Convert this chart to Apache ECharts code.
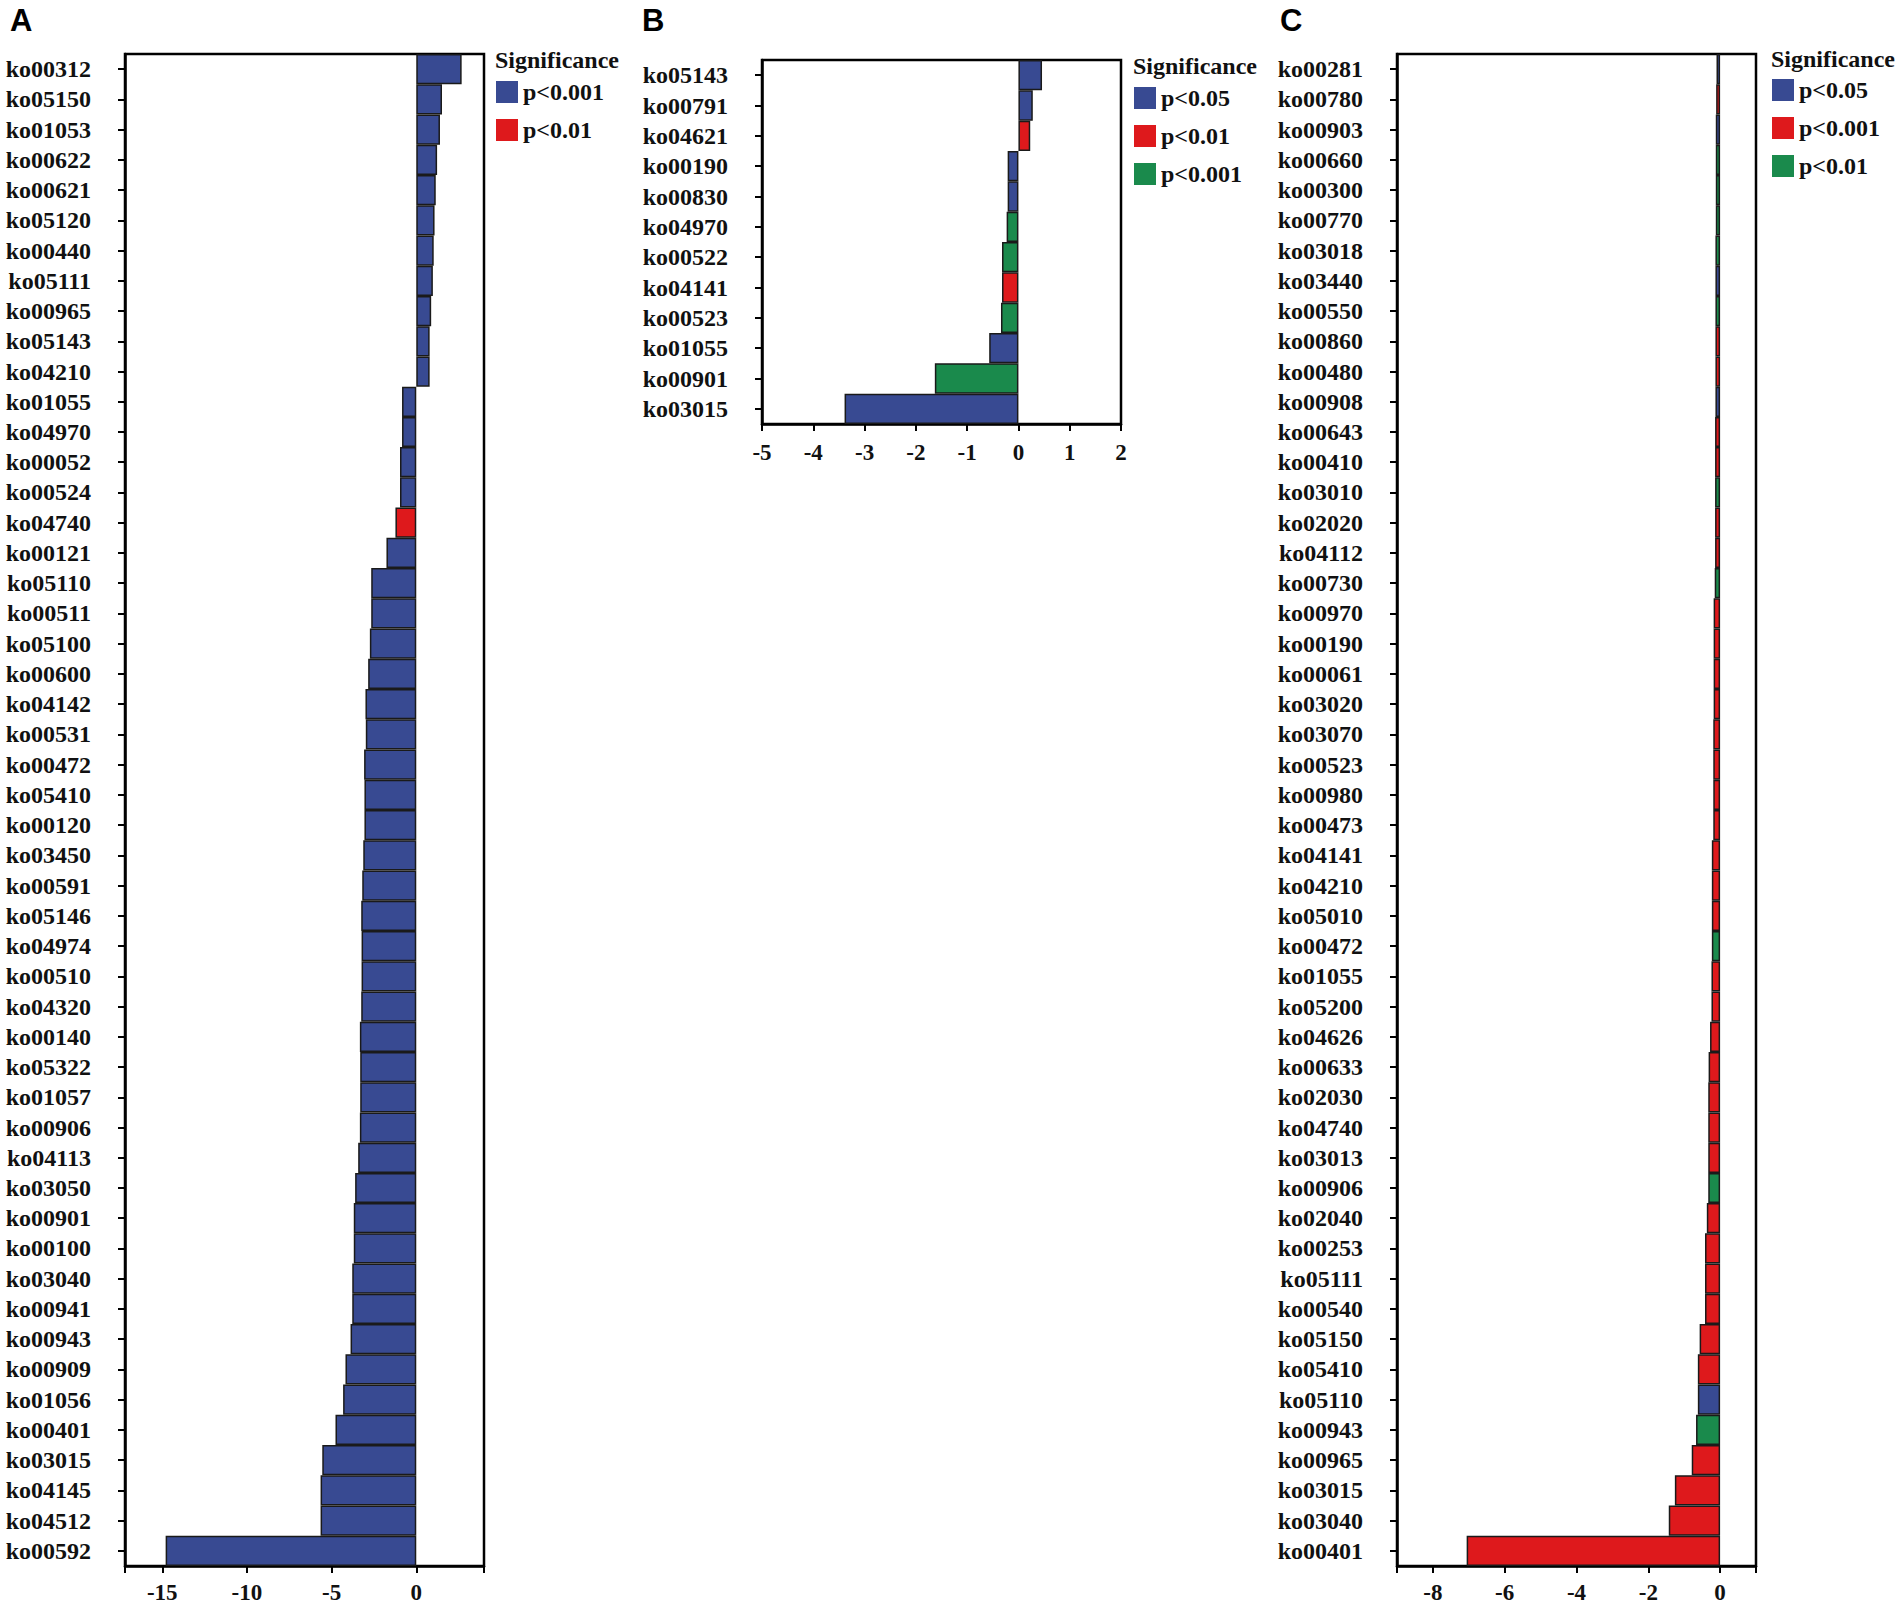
<!DOCTYPE html>
<html><head><meta charset="utf-8">
<script src="https://cdn.jsdelivr.net/npm/echarts@6/dist/echarts.min.js"></script>
<style>html,body{margin:0;padding:0;background:#fff}#c{width:1902px;height:1609px}</style>
</head><body><div id="c"></div>
<script>
// ---------- Panel A ----------
const catsA = ['ko00312','ko05150','ko01053','ko00622','ko00621','ko05120','ko00440','ko05111','ko00965','ko05143','ko04210','ko01055','ko04970','ko00052','ko00524','ko04740','ko00121','ko05110','ko00511','ko05100','ko00600','ko04142','ko00531','ko00472','ko05410','ko00120','ko03450','ko00591','ko05146','ko04974','ko00510','ko04320','ko00140','ko05322','ko01057','ko00906','ko04113','ko03050','ko00901','ko00100','ko03040','ko00941','ko00943','ko00909','ko01056','ko00401','ko03015','ko04145','ko04512','ko00592'];
const valsA = [2.68,1.52,1.40,1.23,1.15,1.08,1.03,0.98,0.88,0.79,0.79,-0.84,-0.84,-0.96,-0.96,-1.23,-1.76,-2.66,-2.66,-2.74,-2.84,-3.00,-2.98,-3.08,-3.06,-3.06,-3.13,-3.19,-3.25,-3.23,-3.23,-3.25,-3.33,-3.31,-3.31,-3.33,-3.43,-3.61,-3.69,-3.69,-3.78,-3.78,-3.88,-4.18,-4.32,-4.77,-5.55,-5.65,-5.65,-14.8];
const sigA = [0,0,0,0,0,0,0,0,0,0,0,0,0,0,0,1,0,0,0,0,0,0,0,0,0,0,0,0,0,0,0,0,0,0,0,0,0,0,0,0,0,0,0,0,0,0,0,0,0,0];
const levelsA = ['p<0.001','p<0.01'];
const ticksA = [-15,-10,-5,0];

// ---------- Panel B ----------
const catsB = ['ko05143','ko00791','ko04621','ko00190','ko00830','ko04970','ko00522','ko04141','ko00523','ko01055','ko00901','ko03015'];
const valsB = [0.46,0.28,0.23,-0.21,-0.21,-0.23,-0.32,-0.32,-0.34,-0.57,-1.63,-3.39];
const sigB = [0,0,1,0,0,2,2,1,2,0,2,0];
const levelsB = ['p<0.05','p<0.01','p<0.001'];
const ticksB = [-5,-4,-3,-2,-1,0,1,2];

// ---------- Panel C ----------
const catsC = ['ko00281','ko00780','ko00903','ko00660','ko00300','ko00770','ko03018','ko03440','ko00550','ko00860','ko00480','ko00908','ko00643','ko00410','ko03010','ko02020','ko04112','ko00730','ko00970','ko00190','ko00061','ko03020','ko03070','ko00523','ko00980','ko00473','ko04141','ko04210','ko05010','ko00472','ko01055','ko05200','ko04626','ko00633','ko02030','ko04740','ko03013','ko00906','ko02040','ko00253','ko05111','ko00540','ko05150','ko05410','ko05110','ko00943','ko00965','ko03015','ko03040','ko00401'];
const valsC = [-0.10,-0.11,-0.12,-0.12,-0.12,-0.12,-0.13,-0.13,-0.13,-0.13,-0.13,-0.13,-0.14,-0.14,-0.14,-0.14,-0.14,-0.15,-0.18,-0.18,-0.18,-0.18,-0.19,-0.19,-0.19,-0.19,-0.23,-0.23,-0.23,-0.23,-0.24,-0.24,-0.28,-0.32,-0.33,-0.33,-0.33,-0.33,-0.37,-0.42,-0.42,-0.42,-0.57,-0.62,-0.62,-0.67,-0.79,-1.26,-1.43,-7.06];
const sigC = [0,1,0,2,2,2,2,0,2,1,1,0,1,1,2,1,1,2,1,1,1,1,1,1,1,1,1,1,1,2,1,1,1,1,1,1,1,2,1,1,1,1,1,1,0,2,1,1,1,1];
const levelsC = ['p<0.05','p<0.001','p<0.01'];
const ticksC = [-8,-6,-4,-2,0];

// ---------- styles ----------
const BLUE = '#384a92', RED = '#de191c', GREEN = '#1a8a4c';
const colorsA = [BLUE, RED], colorsB = [BLUE, RED, GREEN], colorsC = [BLUE, RED, GREEN];
const SERIF = '"Liberation Serif", "Times New Roman", serif';
const SANS = '"Liberation Sans", Arial, sans-serif';

const panels = [
  {id:'A', cats:catsA, vals:valsA, sig:sigA, levels:levelsA, colors:colorsA, ticks:ticksA, min:-17.2, max:4,
   grid:{left:125, top:54, width:359, height:1512}, legend:{left:496, top:80}, sigTitle:{left:495, top:48}, letter:{left:10, top:5}},
  {id:'B', cats:catsB, vals:valsB, sig:sigB, levels:levelsB, colors:colorsB, ticks:ticksB, min:-5, max:2,
   grid:{left:762, top:60, width:359, height:364}, legend:{left:1134, top:86}, sigTitle:{left:1133, top:54}, letter:{left:642, top:5}},
  {id:'C', cats:catsC, vals:valsC, sig:sigC, levels:levelsC, colors:colorsC, ticks:ticksC, min:-9, max:1,
   grid:{left:1397, top:54, width:359, height:1512}, legend:{left:1772, top:78}, sigTitle:{left:1771, top:47}, letter:{left:1280, top:5}}
];

const option = {animation:false, backgroundColor:'#fff', grid:[], xAxis:[], yAxis:[], series:[], legend:[], title:[]};

panels.forEach((p, i) => {
  option.grid.push(Object.assign({show:true, borderColor:'#000', borderWidth:2.5, backgroundColor:'#fff'}, p.grid));
  option.xAxis.push({
    type:'value', gridIndex:i, min:p.min, max:p.max, interval: p.id==='B' ? 1 : undefined,
    splitLine:{show:false},
    axisLine:{show:true, onZero:false, lineStyle:{color:'#000', width:2.5}},
    axisTick:{show:true, length:7, lineStyle:{color:'#000', width:2}, customValues:[p.min].concat(p.ticks, [p.max])},
    axisLabel:{customValues:p.ticks, margin: p.id==='B' ? 17 : 15, color:'#111', fontFamily:SERIF, fontWeight:'bold', fontSize:23}
  });
  option.yAxis.push({
    type:'category', gridIndex:i, data:p.cats, inverse:true,
    axisLine:{show:true, onZero:false, lineStyle:{color:'#000', width:2.5}},
    axisTick:{show:true, alignWithLabel:true, length:7, lineStyle:{color:'#000', width:2}},
    axisLabel:{margin:34, color:'#111', fontFamily:SERIF, fontWeight:'bold', fontSize:24, interval:0}
  });
  // main bar series: one bar per category, coloured by significance level
  option.series.push({
    type:'bar', name:p.id + '|bars', xAxisIndex:i, yAxisIndex:i, barWidth:'100%', barGap:'-100%',
    itemStyle:{borderColor:'#1a1a1a', borderWidth:1.5},
    data:p.vals.map((v, j) => ({value:v, itemStyle:{color:p.colors[p.sig[j]]}}))
  });
  // legend entries (no data)
  const names = [];
  p.levels.forEach((lv, k) => {
    const name = p.id + '|' + lv;
    names.push(name);
    option.series.push({
      type:'bar', name:name, xAxisIndex:i, yAxisIndex:i, barWidth:'100%', barGap:'-100%',
      itemStyle:{color:p.colors[k]}, data:[]
    });
  });
  option.legend.push({
    data:names, left:p.legend.left, top:p.legend.top, orient:'vertical', icon:'rect',
    itemWidth:22, itemHeight:22, itemGap:14, padding:0, selectedMode:false,
    itemStyle:{borderWidth:0},
    formatter: n => n.split('|')[1],
    textStyle:{fontFamily:SERIF, fontWeight:'bold', fontSize:24, color:'#111'}
  });
  option.title.push({text:'Significance', left:p.sigTitle.left, top:p.sigTitle.top, padding:0,
    textStyle:{fontFamily:SERIF, fontWeight:'bold', fontSize:24, color:'#111'}});
  option.title.push({text:p.id, left:p.letter.left, top:p.letter.top, padding:0,
    textStyle:{fontFamily:SANS, fontWeight:'bold', fontSize:31, color:'#000'}});
});

const chart = echarts.init(document.getElementById('c'), null, {renderer:'svg'});
chart.setOption(option);
</script>
</body></html>
